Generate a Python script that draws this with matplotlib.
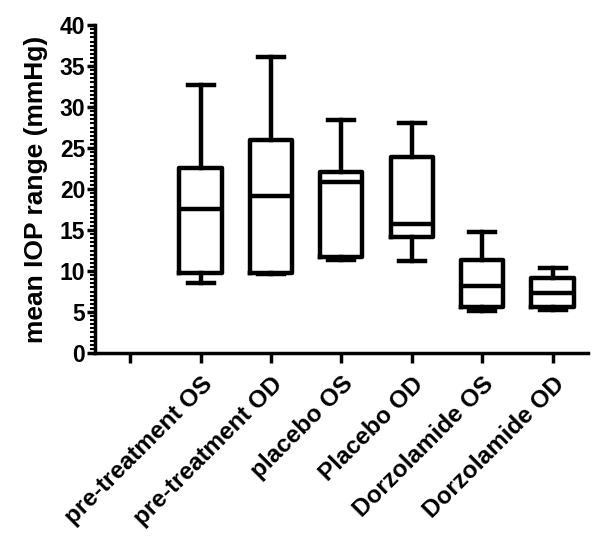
import matplotlib
matplotlib.use("Agg")
import matplotlib.pyplot as plt
from matplotlib.ticker import MultipleLocator

plt.rcParams['font.family'] = ['Liberation Sans', 'DejaVu Sans']
plt.rcParams['font.weight'] = 'bold'

categories = ["pre-treatment OS", "pre-treatment OD", "placebo OS",
              "Placebo OD", "Dorzolamide OS", "Dorzolamide OD"]
whisker_low = [8.5, 9.6, 11.3, 11.2, 5.1, 5.2]
q1 = [9.7, 9.7, 11.7, 14.2, 5.6, 5.6]
median = [17.6, 19.1, 20.8, 15.7, 8.2, 7.3]
q3 = [22.6, 26.0, 22.1, 23.9, 11.4, 9.1]
whisker_high = [32.7, 36.1, 28.4, 28.0, 14.8, 10.4]
y_ticks = [0, 5, 10, 15, 20, 25, 30, 35, 40]

fig = plt.figure(figsize=(6.01, 5.46), dpi=100)
ax = fig.add_axes([0.158, 0.3535, 0.82, 0.6005])

stats = []
for i, name in enumerate(categories):
    stats.append(dict(label=name, whislo=whisker_low[i], q1=q1[i], med=median[i],
                      q3=q3[i], whishi=whisker_high[i], fliers=[]))

lw = 3.2
positions = list(range(1, len(categories) + 1))
ax.bxp(stats, positions=positions, widths=0.6, showfliers=False,
       boxprops=dict(color='black', linewidth=lw),
       whiskerprops=dict(color='black', linewidth=lw),
       capprops=dict(color='black', linewidth=lw),
       medianprops=dict(color='black', linewidth=lw),
       capwidths=0.37, manage_ticks=False)

for s in ['top', 'right']:
    ax.spines[s].set_visible(False)
for s in ['left', 'bottom']:
    ax.spines[s].set_linewidth(2.5)

ax.set_xlim(-0.5, len(categories) + 0.5)
ax.set_ylim(0, 40)
ax.set_xticks([0] + positions)
ax.set_xticklabels([""] + categories, rotation=45, ha='right',
                   rotation_mode='anchor', fontsize=17.5, fontweight='bold')
ax.set_yticks(y_ticks)
ax.set_yticklabels([str(t) for t in y_ticks], fontsize=16.5, fontweight='bold')
ax.yaxis.set_minor_locator(MultipleLocator(0.5))
ax.set_ylabel("mean IOP range (mmHg)", fontsize=19, fontweight='bold', labelpad=8)

ax.tick_params(axis='y', which='major', width=2.5, length=6, pad=1)
ax.tick_params(axis='y', which='minor', width=1.5, length=3.5)
ax.tick_params(axis='x', which='major', width=2.5, length=7, pad=7)

fig.savefig("out.png", dpi=100)
